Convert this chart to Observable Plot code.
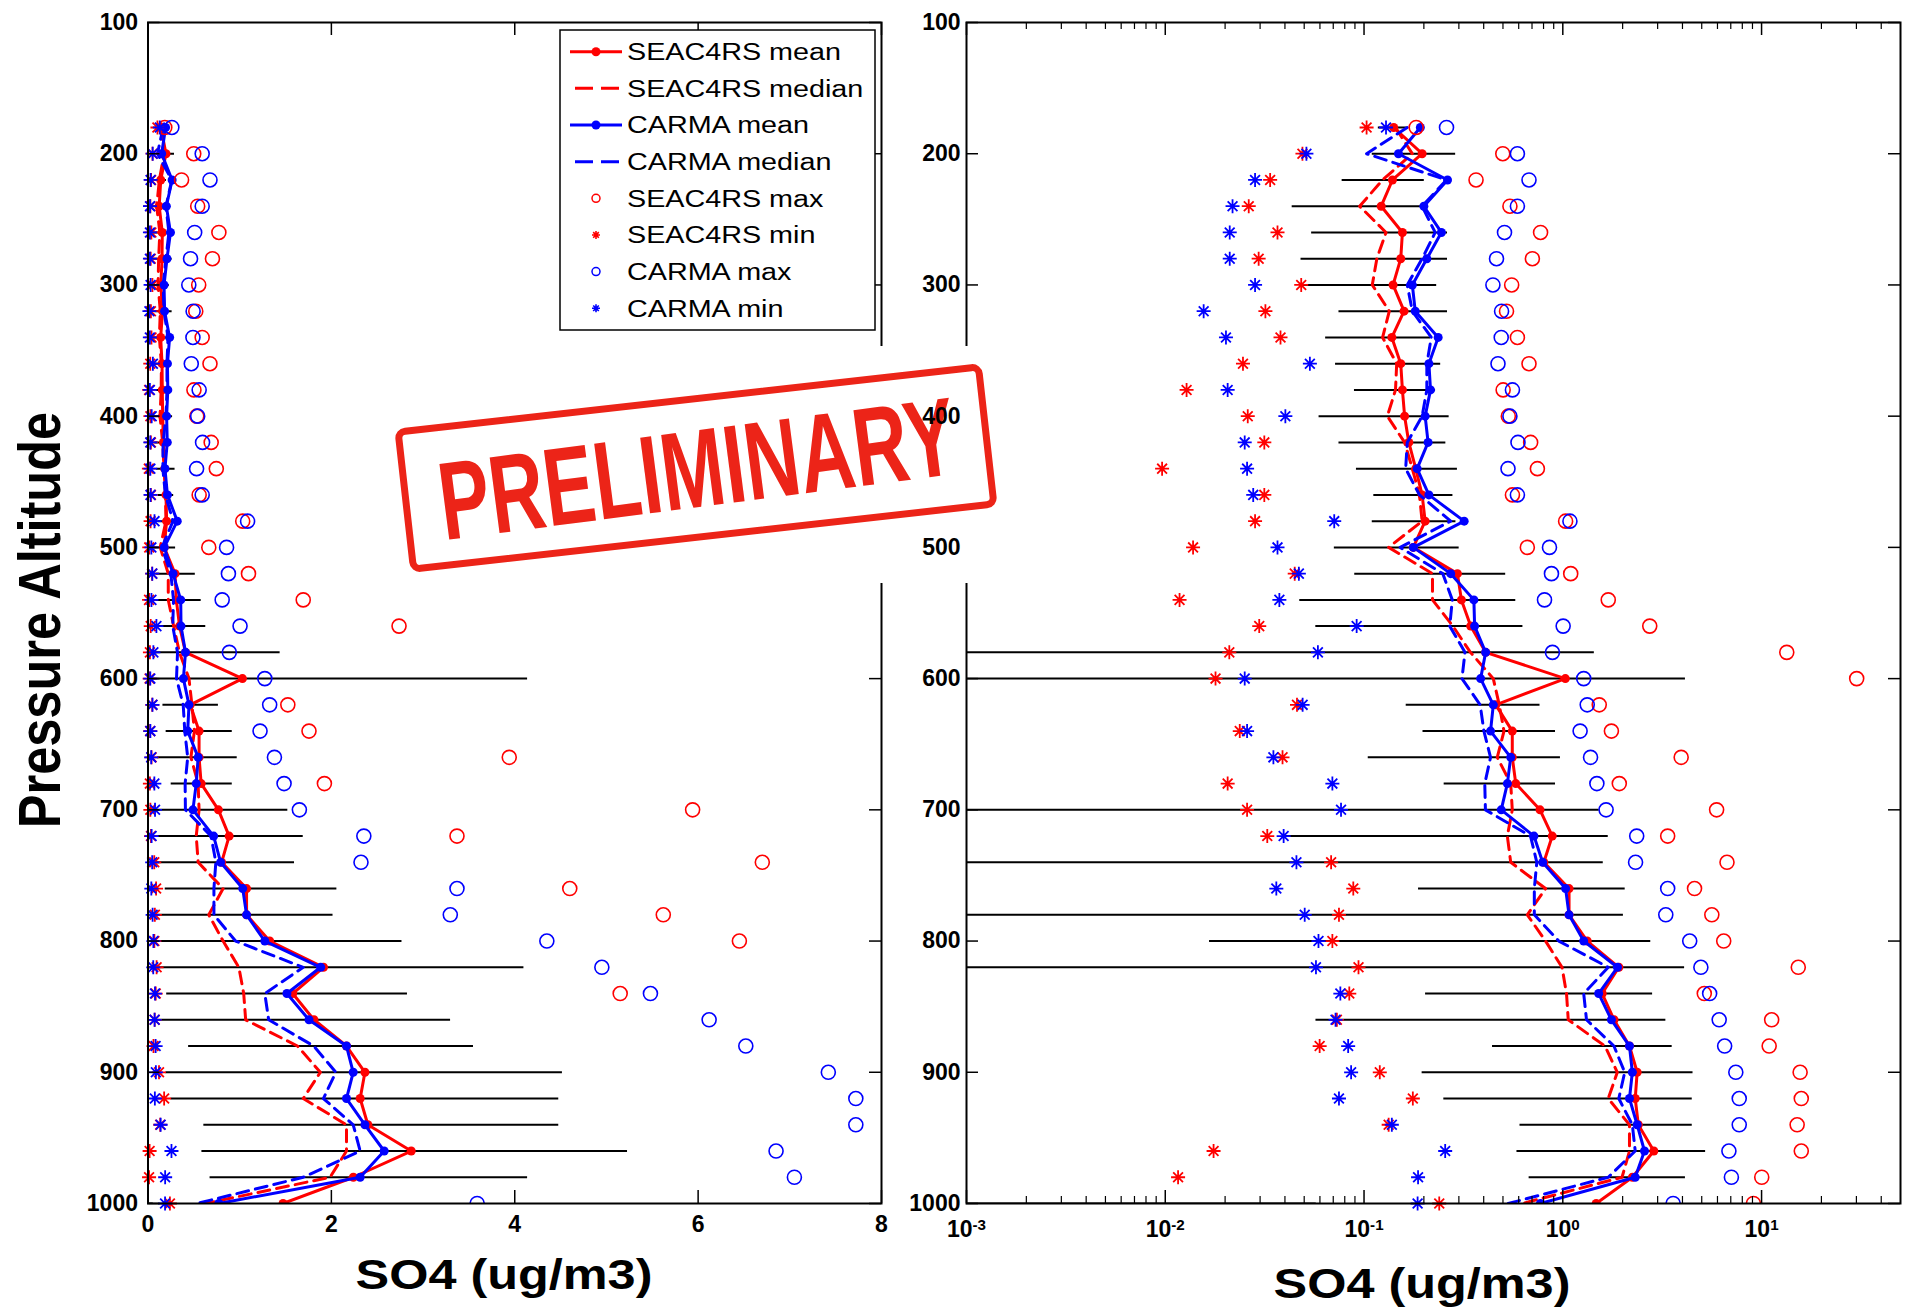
<!DOCTYPE html>
<html>
<head>
<meta charset="utf-8">
<script src="https://cdn.jsdelivr.net/npm/d3@7"></script>
<script src="https://cdn.jsdelivr.net/npm/@observablehq/plot@0.6"></script>
<style>
  html, body { margin: 0; padding: 0; background: #fff; }
  #wrap { position: relative; width: 1905px; height: 1311px; overflow: hidden; background: #fff;
          font-family: "Liberation Sans", Arial, Helvetica, sans-serif; }
  .layer { position: absolute; top: 0; }
  .lbl { position: absolute; white-space: nowrap; font-weight: bold; line-height: 1; color: #000; }
</style>
</head>
<body>
<div id="wrap"></div>
<script>
// ---------------- DATA ----------------
const pressure = [180,200,220,240,260,280,300,320,340,360,380,400,420,440,460,480,500,520,540,560,580,600,620,640,660,680,700,720,740,760,780,800,820,840,860,880,900,920,940,960,980,1000];

const seacMean   = [0.141,0.196,0.139,0.122,0.156,0.153,0.14,0.159,0.138,0.153,0.156,0.16,0.168,0.182,0.196,0.203,0.177,0.295,0.309,0.344,0.409,1.03,0.46,0.557,0.557,0.58,0.768,0.885,0.803,1.075,1.075,1.327,1.914,1.578,1.81,2.165,2.366,2.314,2.398,2.871,2.24,1.473];
const seacMedian = [0.144,0.175,0.124,0.095,0.129,0.116,0.11,0.134,0.124,0.146,0.144,0.131,0.16,0.175,0.19,0.196,0.133,0.221,0.221,0.28,0.343,0.447,0.479,0.506,0.468,0.547,0.557,0.526,0.547,0.819,0.663,0.819,0.991,1.044,1.065,1.63,1.88,1.693,2.165,2.165,1.986,0.626];
const carmaMean  = [0.192,0.149,0.263,0.2,0.245,0.207,0.175,0.181,0.236,0.212,0.216,0.203,0.21,0.185,0.212,0.319,0.177,0.273,0.357,0.36,0.409,0.386,0.447,0.433,0.547,0.526,0.49,0.716,0.792,1.033,1.075,1.274,1.883,1.515,1.756,2.165,2.238,2.165,2.366,2.576,2.314,0.772];
const carmaMedian= [0.165,0.103,0.26,0.196,0.228,0.196,0.165,0.175,0.218,0.207,0.207,0.196,0.165,0.162,0.19,0.273,0.152,0.249,0.278,0.27,0.322,0.311,0.384,0.401,0.433,0.405,0.408,0.688,0.74,0.719,0.719,0.955,1.693,1.274,1.316,1.808,2.049,1.913,2.238,2.314,1.693,0.532];
const seacMax    = [0.183,0.499,0.366,0.542,0.773,0.703,0.553,0.521,0.591,0.676,0.501,0.532,0.689,0.745,0.558,1.033,0.663,1.096,1.693,2.738,13.39,30.1,1.525,1.756,3.94,1.924,5.94,3.37,6.7,4.6,5.62,6.45,15.3,5.15,11.24,10.92,15.63,15.84,15.1,15.84,10.02,9.1];
const seacMin    = [0.103,0.049,0.0337,0.0263,0.0367,0.0295,0.0483,0.0319,0.038,0.0246,0.0128,0.026,0.0315,0.00964,0.0315,0.0283,0.0138,0.0448,0.0118,0.0297,0.021,0.0179,0.046,0.0237,0.0389,0.0206,0.0258,0.0326,0.0683,0.0883,0.0748,0.0693,0.0938,0.0843,0.073,0.0598,0.12,0.176,0.133,0.0175,0.0116,0.239];
const carmaMax   = [0.26,0.591,0.676,0.591,0.509,0.464,0.445,0.492,0.49,0.472,0.558,0.542,0.595,0.53,0.591,1.086,0.857,0.877,0.809,1.004,0.887,1.274,1.327,1.222,1.379,1.484,1.651,2.354,2.323,3.37,3.297,4.35,4.95,5.48,6.12,6.52,7.42,7.72,7.72,6.85,7.05,3.59];
const carmaMin   = [0.129,0.0513,0.0283,0.0218,0.0211,0.0211,0.0283,0.0156,0.0202,0.0534,0.0206,0.0402,0.0251,0.0258,0.0277,0.0708,0.0367,0.047,0.0375,0.0918,0.0586,0.0251,0.0491,0.0258,0.035,0.0693,0.0766,0.0394,0.0457,0.0362,0.0503,0.059,0.0573,0.076,0.0719,0.0832,0.0861,0.0748,0.138,0.256,0.187,0.186];
// horizontal black bars (0 = bar runs off the left edge)
const errLow     = [0.118,0.11,0.0776,0.0435,0.0545,0.0482,0.0484,0.0748,0.0641,0.0719,0.0895,0.0594,0.0748,0.0916,0.112,0.11,0.0709,0.0898,0.0475,0.0572,0,0,0.163,0.198,0.105,0.253,0,0.0395,0,0.188,0,0.0167,0,0.204,0.0573,0.443,0.196,0.252,0.609,0.588,0.677,0];
const errHigh    = [0.165,0.289,0.201,0.202,0.263,0.263,0.232,0.263,0.216,0.243,0.229,0.268,0.258,0.295,0.28,0.29,0.301,0.516,0.58,0.63,1.441,4.14,0.768,0.919,0.973,0.919,1.525,1.693,1.598,2.06,2.018,2.77,4.1,2.83,3.3,3.55,4.52,4.48,4.48,5.23,4.14,0.0575];

// axes / ticks
const pressureTicks = [100,200,300,400,500,600,700,800,900,1000];
const linTicks = [0,2,4,6,8];
const logTicks = [0.001,0.01,0.1,1,10];
const linDomain = [0, 8];
const logDomain = [0.001, 50];
const legendLabels = ["SEAC4RS mean","SEAC4RS median","CARMA mean","CARMA median","SEAC4RS max","SEAC4RS min","CARMA max","CARMA min"];
const xTitle = "SO4 (ug/m3)";
const yTitle = "Pressure Altitude";
const stampText = "PRELIMINARY";

// ---------------- BUILD ----------------
const RED = "#ff0000", BLUE = "#0000ff";
const FONT = '"Liberation Sans", Arial, Helvetica, sans-serif';

const rows = pressure.map((p, i) => ({
  p, sMean: seacMean[i], sMed: seacMedian[i], cMean: carmaMean[i], cMed: carmaMedian[i],
  sMax: seacMax[i], sMin: seacMin[i], cMax: carmaMax[i], cMin: carmaMin[i],
  lo: errLow[i], hi: errHigh[i]
}));

const minorLogTicks = [];
for (let e = -3; e <= 1; e++) for (let k = 2; k <= 9; k++) {
  const v = +(k * Math.pow(10, e)).toPrecision(3);
  if (v < logDomain[1]) minorLogTicks.push(v);
}

const asterisk = {
  draw(ctx, size) {
    const r = Math.sqrt(size / Math.PI), d = r * 0.7;
    ctx.moveTo(-r, 0); ctx.lineTo(r, 0);
    ctx.moveTo(0, -r); ctx.lineTo(0, r);
    ctx.moveTo(-d, -d); ctx.lineTo(d, d);
    ctx.moveTo(-d, d); ctx.lineTo(d, -d);
  }
};

const TOP = 22, BOTTOM = 1203, H = 1311;
const frameH = BOTTOM - TOP;

function panel({log, width, mL, mR, yLabels, axisOnly, yPad}) {
  const frameW = width - mL - mR;
  const xmin = log ? logDomain[0] : linDomain[0];
  const lo = d => Math.max(d.lo, xmin);
  const marks = [];
  const yAxis = () => Plot.axisY({ticks: pressureTicks, tickSize: 0, tickPadding: yPad, label: null, tickFormat: d => String(d)});
  if (axisOnly) {
    marks.push(yAxis());
  } else {
    marks.push(
      Plot.ruleY(rows, {y: "p", x1: lo, x2: "hi", stroke: "black", strokeWidth: 2, clip: true}),
      Plot.line(rows, {x: "sMean", y: "p", stroke: RED, strokeWidth: 3, clip: true}),
      Plot.dot(rows, {x: "sMean", y: "p", r: 4.5, fill: RED, clip: true}),
      Plot.line(rows, {x: "sMed", y: "p", stroke: RED, strokeWidth: 3, strokeDasharray: "12,7", clip: true}),
      Plot.line(rows, {x: "cMean", y: "p", stroke: BLUE, strokeWidth: 3, clip: true}),
      Plot.dot(rows, {x: "cMean", y: "p", r: 4.5, fill: BLUE, clip: true}),
      Plot.line(rows, {x: "cMed", y: "p", stroke: BLUE, strokeWidth: 3, strokeDasharray: "12,7", clip: true}),
      Plot.dot(rows, {x: "sMax", y: "p", r: 7, stroke: RED, fill: "none", strokeWidth: 1.6, clip: true}),
      Plot.dot(rows, {x: "sMin", y: "p", r: 7, symbol: asterisk, stroke: RED, fill: "none", strokeWidth: 1.8}),
      Plot.dot(rows, {x: "cMax", y: "p", r: 7, stroke: BLUE, fill: "none", strokeWidth: 1.6, clip: true}),
      Plot.dot(rows, {x: "cMin", y: "p", r: 7, symbol: asterisk, stroke: BLUE, fill: "none", strokeWidth: 1.8}),
      Plot.frame({stroke: "black", strokeWidth: 2}),
      // inward y ticks, left and right
      Plot.ruleY(pressureTicks, {insetRight: frameW - 12, stroke: "black", strokeWidth: 1.5}),
      Plot.ruleY(pressureTicks, {insetLeft: frameW - 12, stroke: "black", strokeWidth: 1.5}),
      // inward x ticks, bottom and top
      Plot.ruleX(log ? logTicks : linTicks, {insetTop: frameH - 13, stroke: "black", strokeWidth: 1.5}),
      Plot.ruleX(log ? logTicks : linTicks, {insetBottom: frameH - 13, stroke: "black", strokeWidth: 1.5}),
      Plot.axisX({ticks: log ? logTicks : linTicks, tickSize: 0, tickPadding: log ? 17 : 12, label: null,
                  tickFormat: log ? (d => "10^" + Math.round(Math.log10(d))) : (d => String(d))})
    );
    if (log) {
      marks.push(
        Plot.ruleX(minorLogTicks, {insetTop: frameH - 7, stroke: "black", strokeWidth: 1.2}),
        Plot.ruleX(minorLogTicks, {insetBottom: frameH - 7, stroke: "black", strokeWidth: 1.2})
      );
    }
    if (yLabels) marks.push(yAxis());
  }
  return Plot.plot({
    width, height: H, marginLeft: mL, marginRight: mR, marginTop: TOP, marginBottom: H - BOTTOM,
    x: log ? {type: "log", domain: logDomain, axis: null} : {type: "linear", domain: linDomain, axis: null},
    y: {type: "linear", domain: [100, 1000], reverse: true, axis: null},
    style: {fontFamily: FONT, fontSize: "23px", fontWeight: "bold", color: "black", background: "transparent", overflow: "visible"},
    marks
  });
}

const wrap = document.getElementById("wrap");
function place(node, left, z) {
  node.classList.add("layer");
  node.style.left = left + "px";
  node.style.zIndex = z;
  wrap.appendChild(node);
  return node;
}

const leftPlot  = place(panel({log: false, width: 900, mL: 147.5, mR: 19, yLabels: true, yPad: 10}), 0, 1);
const rightPlot = place(panel({log: true, width: 1005, mL: 66, mR: 5, yLabels: false}), 900, 2);

// superscript exponents on the log axis labels
d3.select(rightPlot).selectAll('g[aria-label="x-axis tick label"] text').each(function () {
  const m = this.textContent.match(/^10\^(.+)$/);
  if (!m) return;
  const t = d3.select(this);
  t.text("10");
  t.append("tspan").attr("dy", "-0.45em").attr("font-size", "0.66em").text(m[1]);
});

// overlay: stamp + legend
const ov = d3.select(wrap).append("svg")
  .attr("class", "layer").attr("width", 1905).attr("height", 1311)
  .style("left", "0px").style("z-index", 3).style("overflow", "visible");

// stamp
ov.append("rect").attr("x", 385).attr("y", 346).attr("width", 620).attr("height", 237).attr("fill", "white");
const STAMP = "#ec2418";
ov.append("g").attr("transform", "translate(696,468) rotate(-6.4)")
  .append("rect").attr("x", -292).attr("y", -69).attr("width", 584).attr("height", 138).attr("rx", 7)
  .attr("fill", "none").attr("stroke", STAMP).attr("stroke-width", 7);
ov.append("g").attr("transform", "translate(697,467) rotate(-7.4)")
  .append("text").attr("x", 0).attr("y", 40).attr("text-anchor", "middle")
  .attr("textLength", 520).attr("lengthAdjust", "spacingAndGlyphs")
  .attr("font-family", '"Liberation Sans Narrow", "Liberation Sans", Arial, sans-serif')
  .attr("font-weight", "bold").attr("font-size", 111).attr("fill", STAMP).text(stampText);

// legend
const lg = ov.append("g");
lg.append("rect").attr("x", 560).attr("y", 30).attr("width", 315).attr("height", 300)
  .attr("fill", "white").attr("stroke", "black").attr("stroke-width", 1.5);
const legendStyle = [
  {c: RED, kind: "mean"}, {c: RED, kind: "median"}, {c: BLUE, kind: "mean"}, {c: BLUE, kind: "median"},
  {c: RED, kind: "max"}, {c: RED, kind: "min"}, {c: BLUE, kind: "max"}, {c: BLUE, kind: "min"}
];
legendLabels.forEach((label, i) => {
  const y = 51.7 + i * 36.65;
  const s = legendStyle[i];
  if (s.kind === "mean") {
    lg.append("line").attr("x1", 570).attr("x2", 622).attr("y1", y).attr("y2", y).attr("stroke", s.c).attr("stroke-width", 3);
    lg.append("circle").attr("cx", 596).attr("cy", y).attr("r", 4.5).attr("fill", s.c);
  } else if (s.kind === "median") {
    lg.append("line").attr("x1", 575).attr("x2", 619).attr("y1", y).attr("y2", y).attr("stroke", s.c)
      .attr("stroke-width", 3).attr("stroke-dasharray", "18,8");
  } else if (s.kind === "max") {
    lg.append("circle").attr("cx", 596).attr("cy", y).attr("r", 4).attr("fill", "none").attr("stroke", s.c).attr("stroke-width", 1.5);
  } else {
    const p = d3.path(); asterisk.draw(p, Math.PI * 16);
    lg.append("path").attr("transform", `translate(596,${y})`).attr("d", p.toString()).attr("stroke", s.c).attr("stroke-width", 1.6).attr("fill", "none");
  }
  lg.append("text").attr("transform", `translate(627,${y}) scale(1.25,1)`).attr("dy", "0.36em")
    .attr("font-family", FONT).attr("font-size", 23).attr("fill", "black").text(label);
});

// y labels of the right panel sit above the stamp
place(panel({log: true, width: 1005, mL: 66, mR: 5, axisOnly: true, yPad: 6}), 900, 4);

// axis titles
function addLabel(text, cx, cy, size, transform) {
  const d = document.createElement("div");
  d.className = "lbl";
  d.textContent = text;
  d.style.left = cx + "px"; d.style.top = cy + "px";
  d.style.fontSize = size + "px";
  d.style.transform = transform;
  d.style.zIndex = 5;
  wrap.appendChild(d);
}
addLabel(xTitle, 504, 1275, 42, "translate(-50%,-50%) scaleX(1.2)");
addLabel(xTitle, 1422, 1284, 42, "translate(-50%,-50%) scaleX(1.2)");
addLabel(yTitle, 40, 620, 50.5, "translate(-50%,-50%) scaleX(1.17) rotate(-90deg)");
</script>
</body>
</html>
